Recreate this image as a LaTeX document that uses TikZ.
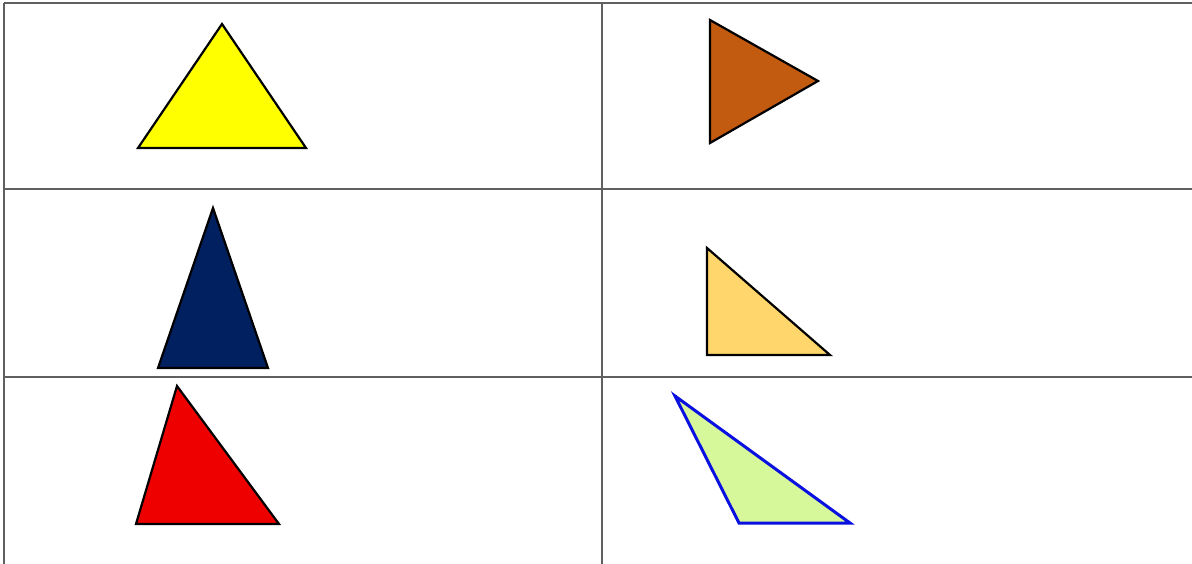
\documentclass[tikz,border=0pt]{standalone}
\usepackage{tikz}
\definecolor{gridgray}{HTML}{606060}
\definecolor{tyellow}{HTML}{FFFF00}
\definecolor{tbrown}{HTML}{C25A10}
\definecolor{tnavy}{HTML}{002060}
\definecolor{tpeach}{HTML}{FFD66B}
\definecolor{tred}{HTML}{EE0000}
\definecolor{tlime}{HTML}{D6F79A}
\definecolor{tblue}{HTML}{0A10E0}
\begin{document}
\begin{tikzpicture}[x=1pt,y=-1pt,
  gridline/.style={draw=gridgray,line width=1.8pt},
  tri/.style={draw=black,line width=2.2pt,line join=miter}]
\useasboundingbox (0,0) rectangle (1192,564);
\fill[white] (0,0) rectangle (1192,564);
% grid
\coordinate (tl) at (4,3);
\coordinate (tr) at (1192,3);
\coordinate (bl) at (4,564);
\coordinate (h1l) at (4,189);
\coordinate (h1r) at (1192,189);
\coordinate (h2l) at (4,377);
\coordinate (h2r) at (1192,377);
\coordinate (vt) at (602,3);
\coordinate (vb) at (602,564);
\draw[gridline] (tl) -- (tr);
\draw[gridline] (tl) -- (bl);
\draw[gridline] (h1l) -- (h1r);
\draw[gridline] (h2l) -- (h2r);
\draw[gridline] (vt) -- (vb);
% triangles
\draw[tri,fill=tyellow] (138,148) -- (306,148) -- (222,24) -- cycle;
\draw[tri,fill=tbrown] (710,20) -- (710,143) -- (818,81) -- cycle;
\draw[tri,fill=tnavy] (158,368) -- (268,368) -- (213,208) -- cycle;
\draw[tri,fill=tpeach] (707,248) -- (707,355) -- (830,355) -- cycle;
\draw[tri,fill=tred] (136,524) -- (279,524) -- (177,386) -- cycle;
\draw[tri,draw=tblue,line width=3pt,fill=tlime] (675,396) -- (739,523) -- (850,523) -- cycle;
\end{tikzpicture}
\end{document}
